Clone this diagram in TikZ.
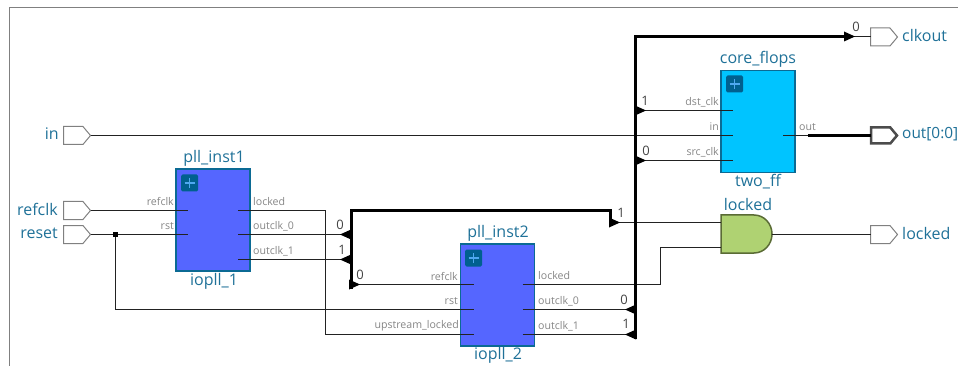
\documentclass[tikz,border=0pt]{standalone}
\usepackage{fontspec}
\setmainfont{Open Sans}
\usetikzlibrary{shapes.symbols}
\definecolor{lbl}{HTML}{1F7198}
\definecolor{pinc}{HTML}{858585}
\definecolor{bitc}{HTML}{444444}
\definecolor{edgeb}{HTML}{0B6A94}
\definecolor{iconb}{HTML}{00608F}
\definecolor{wirec}{HTML}{222222}
\definecolor{modblue}{HTML}{5566FF}
\definecolor{modcyan}{HTML}{00C4FF}
\definecolor{andfill}{HTML}{AFD272}
\definecolor{andedge}{HTML}{5A6B35}
\definecolor{plusblue}{HTML}{4FA8F0}
\tikzset{
  portbox/.style={draw=#1,fill=white,shape=signal,signal to=east,signal pointer angle=100,
    minimum width=27pt,minimum height=18pt,inner sep=0pt,outer sep=0pt,anchor=west,line width=1pt},
  portbox/.default={black!50},
  modbox/.style={draw=edgeb,line width=1.5pt,fill=#1,minimum width=74pt,minimum height=102pt,inner sep=0pt,outer sep=0pt},
  icon/.style={fill=iconb,rounded corners=1.5pt,minimum size=17pt,inner sep=0pt,outer sep=0pt},
  title/.style={text=lbl,font=\fontsize{16}{16}\selectfont,inner sep=0pt},
  pinr/.style={text=pinc,font=\fontsize{10.6}{11}\selectfont,inner sep=0pt,anchor=east},
  pinl/.style={text=pinc,font=\fontsize{10.6}{11}\selectfont,inner sep=0pt,anchor=west},
  bit/.style={text=bitc,font=\fontsize{13}{13}\selectfont,inner sep=0pt},
  wire/.style={draw=wirec,line width=1pt},
  bus/.style={draw=black,line width=3pt,line cap=rect},
  tipE/.pic={\fill[black] (-1,-5) -- (10,0) -- (-1,5) -- cycle;},
  tipW/.pic={\fill[black] (1,-5) -- (-10,0) -- (1,5) -- cycle;},
}
\begin{document}
\begin{tikzpicture}[x=1pt,y=-1pt]
\useasboundingbox (0,0) rectangle (958,366);
\draw[black!50,line width=1pt] (958,7.5) -- (9.5,7.5) -- (9.5,366);

% ports
\node[portbox] (pin) at (63.5,135.5) {};
\node[portbox] (prefclk) at (63.5,210.5) {};
\node[portbox] (preset) at (63.5,234.5) {};
\node[portbox] (pclkout) at (870.5,37) {};
\node[portbox] (plocked) at (870.5,234.5) {};
\node[portbox=black!70,line width=2.5pt,minimum width=26pt,minimum height=16pt] (pout) at (871,135.5) {};

\node[title,anchor=east] (tin) at (59,134) {in};
\node[title,anchor=east] (trefclk) at (58,209) {refclk};
\node[title,anchor=east] (treset) at (58,233) {reset};
\node[title,anchor=west] (tclkout) at (902,35.5) {clkout};
\node[title,anchor=west,font=\fontsize{15.4}{16}\selectfont] (tout) at (902,134) {out[0:0]};
\node[title,anchor=west] (tlocked) at (902,233) {locked};

% modules
\node[modbox=modblue] (m1) at (213,220) {};
\node[modbox=modblue] (m2) at (497.5,295) {};
\node[modbox=modcyan] (m3) at (758,121.5) {};

% pins
\coordinate (a1) at (188,210.5); \coordinate (a2) at (188,234.5);
\coordinate (a3) at (238,210.5); \coordinate (a4) at (238,234.5); \coordinate (a5) at (238,259.5);
\coordinate (b1) at (473.5,284.5); \coordinate (b2) at (473.5,309.5); \coordinate (b3) at (473.5,334.5);
\coordinate (b4) at (522.5,284.5); \coordinate (b5) at (522.5,309.5); \coordinate (b6) at (522.5,334.5);
\coordinate (c1) at (733,110.5); \coordinate (c2) at (733,135.5); \coordinate (c3) at (733,160.5);
\coordinate (c4) at (783,135.5);
\coordinate (j) at (115,234.5);

% and gate
\node[minimum width=51pt,minimum height=38pt,inner sep=0pt,outer sep=0pt] (ag) at (746.5,234) {};
\draw[fill=andfill,draw=andedge,line width=1.5pt]
  (ag.north west) -- (754,215) arc[start angle=90,end angle=-90,x radius=18pt,y radius=19pt] -- (ag.south west) -- cycle;
\coordinate (g1) at (721,222.5); \coordinate (g2) at (721,247.5);
\coordinate (g3) at (772,234.5);

% thin wires
\draw[wire] (pin.east) -- (c2);
\draw[wire] (prefclk.east) -- (a1);
\draw[wire] (preset.east) -- (a2);
\draw[wire] (j) |- (b2);
\draw[wire] (a3) -| (325.5,334.5) -- (b3);
\draw[wire] (a4) -- (345,234.5);
\draw[wire] (a5) -- (345,259.5);
\draw[wire] (351,284.5) -- (b1);
\draw[wire] (b5) -- (635,309.5);
\draw[wire] (b6) -- (635,334.5);
\draw[wire] (b4) -- (660.5,284.5) |- (g2);
\draw[wire] (610,222.5) -- (g1);
\draw[wire] (635,110.5) -- (c1);
\draw[wire] (635,160.5) -- (c3);
\draw[wire] (g3) -- (plocked.west);
\draw[wire] (c4) -- (808,135.5);
\draw[wire] (853,37) -- (pclkout.west);
\fill[black] (112.5,232) rectangle (117.5,237);

% buses
\draw[bus] (351,287) -- (351,210.5) -- (610,210.5) -- (610,222);
\draw[bus] (635,337) -- (635,37) -- (848,37);
\draw[draw=black,line width=3pt] (808,135.5) -- (pout.west);
\pic at (610,222.5) {tipE};
\pic at (350,284.5) {tipE};
\pic at (636,110.5) {tipE};
\pic at (636,160.5) {tipE};
\pic at (845,36.5) {tipE};
\pic at (350,234.5) {tipW};
\pic at (350,259.5) {tipW};
\pic at (635,309.5) {tipW};
\pic at (635,334.5) {tipW};

% icons
\foreach \n/\x/\y in {i1/189.5/183,i2/473.5/258,i3/734.5/84}{
  \node[icon] (\n) at (\x,\y) {};
  \draw[plusblue,line width=1.3pt] (\x-5,\y) -- (\x+5,\y) (\x,\y-5) -- (\x,\y+5);
}

% titles
\node[title] (n1) at (214,158) {pll\_inst1};
\node[title] (n2) at (214,281) {iopll\_1};
\node[title] (n3) at (498,233) {pll\_inst2};
\node[title] (n4) at (498,355) {iopll\_2};
\node[title] (n5) at (758,59.5) {core\_flops};
\node[title] (n6) at (758,182) {two\_ff};
\node[title] (n7) at (748,204.5) {locked};

% pin labels
\node[pinr] (l1) at (174,201.5) {refclk};
\node[pinr] (l2) at (174,226.5) {rst};
\node[pinl] (l3) at (253,201.5) {locked};
\node[pinl] (l4) at (253,226.5) {outclk\_0};
\node[pinl] (l5) at (253,251) {outclk\_1};
\node[pinr] (l6) at (458,276) {refclk};
\node[pinr] (l7) at (458,301) {rst};
\node[pinr] (l8) at (459,326) {upstream\_locked};
\node[pinl] (l9) at (538,276) {locked};
\node[pinl] (l10) at (538,301) {outclk\_0};
\node[pinl] (l11) at (538,326) {outclk\_1};
\node[pinr] (l12) at (719,102) {dst\_clk};
\node[pinr] (l13) at (719,127) {in};
\node[pinr] (l14) at (719,152.5) {src\_clk};
\node[pinl] (l15) at (799,127) {out};

% bit labels
\node[bit] (b01) at (340,225) {0};
\node[bit] (b02) at (342,250) {1};
\node[bit] (b03) at (360,275) {0};
\node[bit] (b04) at (621,213) {1};
\node[bit] (b05) at (856,27) {0};
\node[bit] (b06) at (645,101) {1};
\node[bit] (b07) at (646,151) {0};
\node[bit] (b08) at (624,300) {0};
\node[bit] (b09) at (626,324) {1};
\end{tikzpicture}
\end{document}
